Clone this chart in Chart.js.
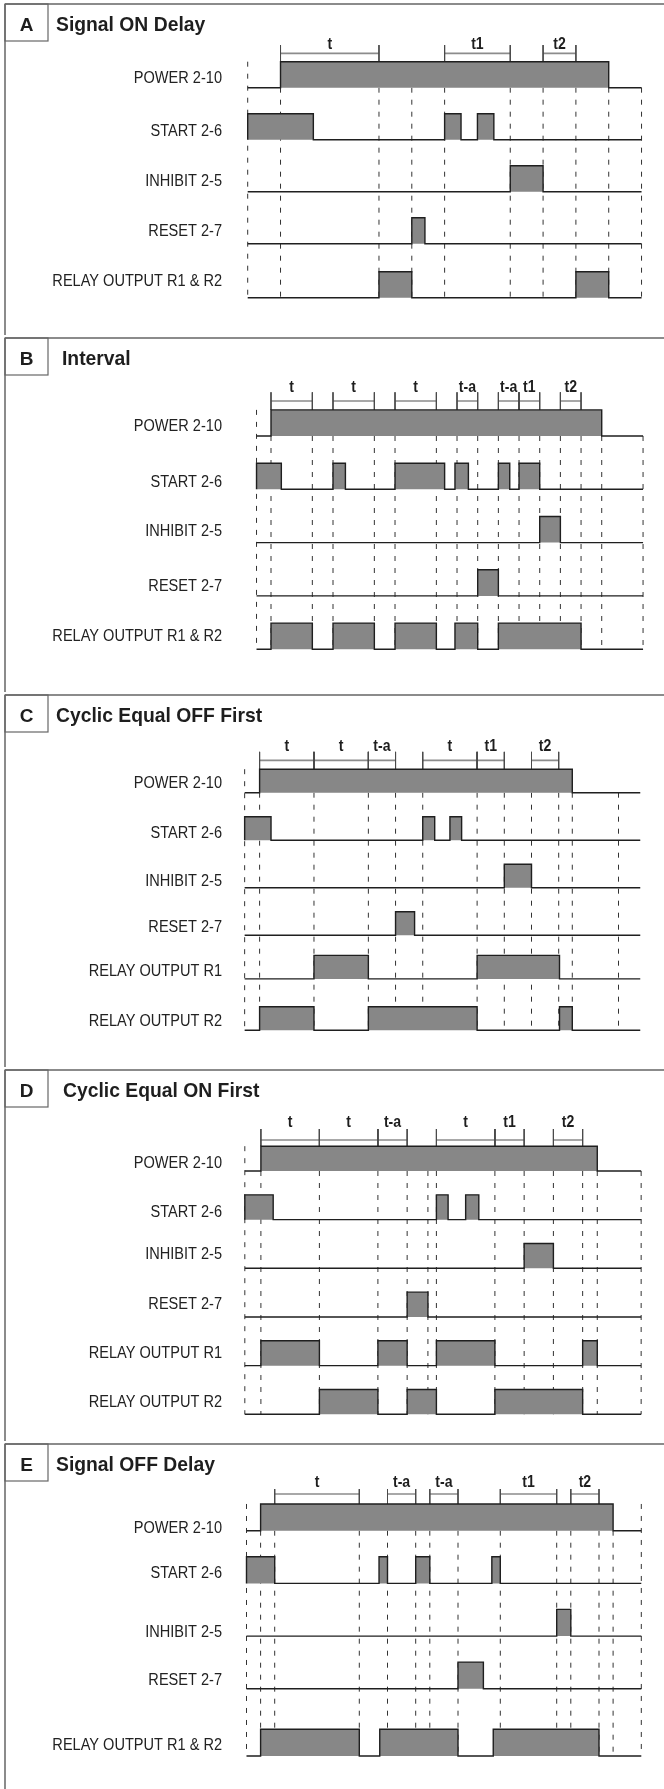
<!DOCTYPE html>
<html>
<head>
<meta charset="utf-8">
<script src="https://cdn.jsdelivr.net/npm/chart.js@4.4.1/dist/chart.umd.min.js"></script>
<style>
body { margin: 0; background: #fff; width: 664px; height: 1789px; position: relative; overflow: hidden; }
canvas { position: absolute; left: 0; }
</style>
</head>
<body>
<script>
// row names
const rowsSingle = ["POWER 2-10", "START 2-6", "INHIBIT 2-5", "RESET 2-7", "RELAY OUTPUT R1 & R2"];
const rowsDual = ["POWER 2-10", "START 2-6", "INHIBIT 2-5", "RESET 2-7", "RELAY OUTPUT R1", "RELAY OUTPUT R2"];
const titles = ["Signal ON Delay", "Interval", "Cyclic Equal OFF First", "Cyclic Equal ON First", "Signal OFF Delay"];
const letters = ["A", "B", "C", "D", "E"];

// A - signal on delay (time units)
const spanA = [0, 12];
const pulsesA = [
    [[1, 11]],
    [[0, 2], [6, 6.5], [7, 7.5]],
    [[8, 9]],
    [[5, 5.4]],
    [[4, 5], [10, 11]]
];
const bracketNamesA = ["t", "t1", "t2"];
const bracketSpansA = [[1, 4], [6, 8], [9, 10]];
const markersA = [0, 1, 4, 5, 6, 8, 9, 10, 11, 12];
const longMarkersA = [0];

// B - interval
const spanB = [-0.7, 18];
const pulsesB = [
    [[0, 16]],
    [[-0.7, 0.5], [3, 3.6], [6, 8.4], [8.9, 9.55], [11, 11.55], [12, 13]],
    [[13, 14]],
    [[10, 11]],
    [[0, 2], [3, 5], [6, 8], [8.9, 10], [11, 15]]
];
const bracketNamesB = ["t", "t", "t", "t-a", "t-a", "t1", "t2"];
const bracketSpansB = [[0, 2], [3, 5], [6, 8], [9, 10], [11, 12], [12, 13], [14, 15]];
const markersB = [-0.7, 0, 2, 3, 5, 6, 8, 9, 10, 11, 12, 13, 14, 15, 16, 18];
const longMarkersB = [-0.7];

// C - cyclic equal off first
const spanC = [-0.55, 14];
const pulsesC = [
    [[0, 11.5]],
    [[-0.55, 0.42], [6, 6.44], [7, 7.43]],
    [[9, 10]],
    [[5, 5.7]],
    [[2, 4], [8, 11.03]],
    [[0, 2], [4, 8], [11.03, 11.5]]
];
const bracketNamesC = ["t", "t", "t-a", "t", "t1", "t2"];
const bracketSpansC = [[0, 2], [2, 4], [4, 5], [6, 8], [8, 9], [10, 11]];
const markersC = [-0.55, 0, 2, 4, 5, 6, 8, 9, 10, 11, 11.5, 13.2];
const longMarkersC = [-0.55];

// D - cyclic equal on first
const spanD = [-0.55, 13];
const pulsesD = [
    [[0, 11.5]],
    [[-0.55, 0.42], [6, 6.4], [7, 7.45]],
    [[9, 10]],
    [[5, 5.71]],
    [[0, 2], [4, 5], [6, 8], [11, 11.5]],
    [[2, 4], [5, 6], [8, 11]]
];
const bracketNamesD = ["t", "t", "t-a", "t", "t1", "t2"];
const bracketSpansD = [[0, 2], [2, 4], [4, 5], [6, 8], [8, 9], [10, 11]];
const markersD = [-0.55, 0, 2, 4, 5, 5.71, 6, 8, 9, 10, 11, 11.5, 13];
const longMarkersD = [-0.55];

// E - signal off delay
const spanE = [0, 28];
const pulsesE = [
    [[1, 26]],
    [[0, 2], [9.4, 10], [12, 13], [17.4, 18]],
    [[22, 23]],
    [[15, 16.8]],
    [[1, 8], [9.45, 15], [17.5, 25]]
];
const bracketNamesE = ["t", "t-a", "t-a", "t1", "t2"];
const bracketSpansE = [[2, 8], [10, 12], [13, 15], [18, 22], [23, 25]];
const markersE = [0, 1, 2, 8, 10, 12, 13, 15, 18, 22, 23, 25, 26, 28];
const longMarkersE = [0, 28];

const panels = [
    { rows: rowsSingle, span: spanA, pulses: pulsesA, names: bracketNamesA, spans: bracketSpansA, markers: markersA, longMarkers: longMarkersA },
    { rows: rowsSingle, span: spanB, pulses: pulsesB, names: bracketNamesB, spans: bracketSpansB, markers: markersB, longMarkers: longMarkersB },
    { rows: rowsDual, span: spanC, pulses: pulsesC, names: bracketNamesC, spans: bracketSpansC, markers: markersC, longMarkers: longMarkersC },
    { rows: rowsDual, span: spanD, pulses: pulsesD, names: bracketNamesD, spans: bracketSpansD, markers: markersD, longMarkers: longMarkersD },
    { rows: rowsSingle, span: spanE, pulses: pulsesE, names: bracketNamesE, spans: bracketSpansE, markers: markersE, longMarkers: longMarkersE }
];

// page layout of each panel (pixels and row levels)
const layouts = [
    { top: 1, height: 334, x0: 247.7, unit: 32.82, y0: 86.7, pitch: 52, levels: [0, 1, 2, 3, 4.04], labelDy: [-4.4, -4, -6, -8, -11.5],
      pulseH: 0.5, bracketLine: -0.66, tickTop: -0.82, labelBase: -0.74, titleX: 56 },
    { top: 335, height: 357, x0: 271.0, unit: 20.67, y0: 101, pitch: 53.3, levels: [0, 1, 2, 3, 4], labelDy: [-5, -2.6, -6.6, -4.9, -8.2],
      pulseH: 0.49, bracketLine: -0.657, tickTop: -0.82, labelBase: -0.83, titleX: 62 },
    { top: 692, height: 375, x0: 259.6, unit: 27.19, y0: 100.7, pitch: 47.5, levels: [0, 1, 2, 3, 3.92, 5], labelDy: [-4.7, -2.5, -1.7, -3.5, -2.9, -4.2],
      pulseH: 0.495, bracketLine: -0.68, tickTop: -0.86, labelBase: -0.88, titleX: 56 },
    { top: 1067, height: 374, x0: 260.9, unit: 29.25, y0: 104, pitch: 48.66, levels: [0, 1, 2, 3, 4, 5], labelDy: [-3.3, -3, -9, -7.7, -7.3, -7.3],
      pulseH: 0.51, bracketLine: -0.637, tickTop: -0.863, labelBase: -0.91, titleX: 63 },
    { top: 1441, height: 348, x0: 246.5, unit: 14.1, y0: 89.7, pitch: 52.7, levels: [0, 1, 2, 3, 4.275], labelDy: [2.6, -5.1, 0.6, -4.1, -6],
      pulseH: 0.507, bracketLine: -0.696, tickTop: -0.79, labelBase: -0.835, titleX: 56 }
];

const FONT = "'Liberation Sans', Arial, sans-serif";

// text squeezed horizontally, the original uses a narrow face
function drawText(ctx, text, x, y, font, align, sx, color) {
    ctx.save();
    ctx.font = font;
    ctx.fillStyle = color || "#1e1e1e";
    ctx.textAlign = align;
    ctx.textBaseline = "alphabetic";
    ctx.translate(x, y);
    ctx.scale(sx, 1);
    ctx.fillText(text, 0, 0);
    ctx.restore();
}

// build the line datasets for one panel
function buildDatasets(p, lay) {
    const h = lay.pulseH;
    const last = lay.levels[lay.levels.length - 1];
    const datasets = [];

    // dashed time markers
    const dash = [];
    p.markers.forEach(x => {
        const from = p.longMarkers.includes(x) ? -h : 0;
        dash.push({ x: x, y: from }, { x: x, y: last }, { x: x, y: null });
    });
    datasets.push({ data: dash, borderColor: "#333", borderWidth: 1, borderDash: [5, 7], fill: false, order: 4 });

    // timing brackets
    const bar = [];
    const ticks = [];
    p.spans.forEach(([s, e]) => {
        bar.push({ x: s, y: lay.bracketLine }, { x: e, y: lay.bracketLine }, { x: e, y: null });
        ticks.push({ x: s, y: lay.tickTop }, { x: s, y: -h }, { x: s, y: null });
        ticks.push({ x: e, y: lay.tickTop }, { x: e, y: -h }, { x: e, y: null });
    });
    datasets.push({ data: bar, borderColor: "#8c8c8c", borderWidth: 1.6, fill: false, order: 3 });
    datasets.push({ data: ticks, borderColor: "#4a4a4a", borderWidth: 1, fill: false, order: 2 });

    // signal rows
    p.rows.forEach((name, i) => {
        const r = lay.levels[i];
        const pts = [{ x: p.span[0], y: r }];
        p.pulses[i].forEach(([s, e]) => {
            pts.push({ x: s, y: r }, { x: s, y: r - h }, { x: e, y: r - h }, { x: e, y: r });
        });
        pts.push({ x: p.span[1], y: r });
        datasets.push({
            label: name,
            data: pts,
            borderColor: "#1f1f1f",
            borderWidth: 1.4,
            backgroundColor: "#878787",
            fill: { value: r },
            order: 1
        });
    });
    return datasets;
}

function makePlugin(idx) {
    const p = panels[idx];
    const lay = layouts[idx];
    return {
        id: "diagram" + idx,
        beforeDraw(chart) {
            const ctx = chart.ctx;
            ctx.save();
            ctx.fillStyle = "#fff";
            ctx.fillRect(0, 0, chart.width, chart.height);
            // panel frame
            ctx.strokeStyle = "#666";
            ctx.lineWidth = 1.5;
            ctx.beginPath();
            ctx.moveTo(5, 3);
            ctx.lineTo(chart.width, 3);
            ctx.moveTo(5, 3);
            ctx.lineTo(5, chart.height);
            ctx.stroke();
            ctx.lineWidth = 1.2;
            ctx.strokeRect(5, 3, 43, 37);
            ctx.restore();
            drawText(ctx, letters[idx], 26.5, 29.5, "bold 19px " + FONT, "center", 1);
            drawText(ctx, titles[idx], lay.titleX, 29.5, "bold 21px " + FONT, "left", 0.92);
        },
        afterDatasetsDraw(chart) {
            const ctx = chart.ctx;
            const xs = chart.scales.x;
            const ys = chart.scales.y;
            p.rows.forEach((name, i) => {
                drawText(ctx, name, 222, ys.getPixelForValue(lay.levels[i]) + lay.labelDy[i], "16px " + FONT, "right", 0.91, "#222");
            });
            p.names.forEach((name, i) => {
                const [s, e] = p.spans[i];
                drawText(ctx, name, xs.getPixelForValue((s + e) / 2), ys.getPixelForValue(lay.labelBase), "bold 16px " + FONT, "center", 0.88);
            });
        }
    };
}

panels.forEach((p, idx) => {
    const lay = layouts[idx];
    const canvas = document.createElement("canvas");
    canvas.width = 664;
    canvas.height = lay.height;
    canvas.style.top = lay.top + "px";
    canvas.style.width = "664px";
    canvas.style.height = lay.height + "px";
    document.body.appendChild(canvas);

    new Chart(canvas.getContext("2d"), {
        type: "line",
        data: { datasets: buildDatasets(p, lay) },
        options: {
            responsive: false,
            animation: false,
            devicePixelRatio: 1,
            events: [],
            layout: { padding: 0 },
            elements: { point: { radius: 0 }, line: { tension: 0, borderJoinStyle: "miter" } },
            plugins: { legend: { display: false }, tooltip: { enabled: false } },
            scales: {
                x: { type: "linear", display: false, min: -lay.x0 / lay.unit, max: (664 - lay.x0) / lay.unit },
                y: { type: "linear", display: false, reverse: true, min: -lay.y0 / lay.pitch, max: (lay.height - lay.y0) / lay.pitch }
            }
        },
        plugins: [makePlugin(idx)]
    });
});
</script>
</body>
</html>
